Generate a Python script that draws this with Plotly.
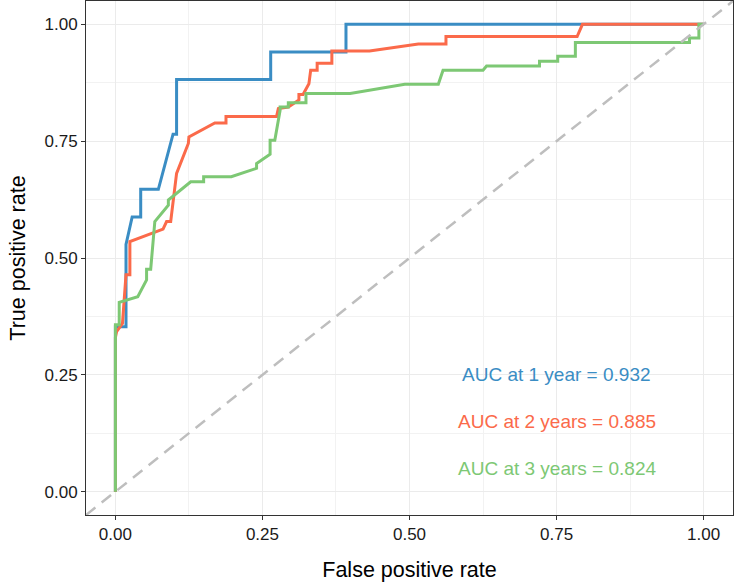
import plotly.graph_objects as go

# 1-year ROC
fpr_1y = [0, 0, 0.018, 0.018, 0.0285, 0.043, 0.043, 0.073, 0.098, 0.104, 0.104, 0.264, 0.264, 0.392, 0.392, 1.0]
tpr_1y = [0, 0.353, 0.353, 0.529, 0.588, 0.588, 0.647, 0.647, 0.765, 0.765, 0.882, 0.882, 0.941, 0.941, 1.0, 1.0]

# 2-year ROC
fpr_2y = [0, 0, 0.002, 0.012, 0.018, 0.0246, 0.0246, 0.081, 0.087, 0.094, 0.104, 0.124, 0.125, 0.169, 0.188, 0.188,
          0.274, 0.277, 0.294, 0.312, 0.312, 0.319, 0.329, 0.332, 0.343, 0.343, 0.368, 0.368, 0.432, 0.515, 0.562,
          0.562, 0.785, 0.794, 1.0]
tpr_2y = [0, 0.33, 0.3425, 0.36, 0.464, 0.464, 0.535, 0.562, 0.578, 0.578, 0.681, 0.745, 0.759, 0.789, 0.789, 0.803,
          0.803, 0.82, 0.823, 0.838, 0.85, 0.85, 0.873, 0.902, 0.902, 0.917, 0.917, 0.943, 0.943, 0.958, 0.958,
          0.974, 0.974, 1.0, 1.0]

# 3-year ROC
fpr_3y = [0, 0, 0.0065, 0.0065, 0.038, 0.053, 0.053, 0.06, 0.067, 0.09, 0.09, 0.128, 0.15, 0.15, 0.197, 0.24, 0.24,
          0.263, 0.263, 0.271, 0.28, 0.28, 0.294, 0.294, 0.324, 0.324, 0.399, 0.492, 0.549, 0.557, 0.625, 0.631,
          0.721, 0.721, 0.752, 0.752, 0.782, 0.782, 0.976, 0.976, 0.992, 0.992, 1.0]
tpr_3y = [0, 0.357, 0.357, 0.405, 0.417, 0.453, 0.476, 0.476, 0.578, 0.613, 0.624, 0.663, 0.663, 0.674, 0.674, 0.692,
          0.702, 0.722, 0.752, 0.752, 0.816, 0.823, 0.823, 0.832, 0.832, 0.852, 0.852, 0.872, 0.872, 0.902, 0.902,
          0.911, 0.911, 0.921, 0.921, 0.932, 0.932, 0.961, 0.961, 0.971, 0.971, 1.0, 1.0]

ref_line = [-0.05, 1.05]

auc_labels = ["AUC at 1 year = 0.932", "AUC at 2 years = 0.885", "AUC at 3 years = 0.824"]
label_x = [0.75, 0.75, 0.75]
label_y = [0.25, 0.15, 0.05]

tick_vals = [0, 0.25, 0.5, 0.75, 1.0]
tick_text = ["0.00", "0.25", "0.50", "0.75", "1.00"]

colors = ["#3A8DC4", "#FB6A4A", "#7DC874"]
FONT = "Arial, Liberation Sans, sans-serif"

fig = go.Figure()
for fx, ty, c in [(fpr_1y, tpr_1y, colors[0]), (fpr_2y, tpr_2y, colors[1]), (fpr_3y, tpr_3y, colors[2])]:
    fig.add_trace(go.Scatter(x=fx, y=ty, mode="lines", line=dict(color=c, width=3), showlegend=False,
                             hoverinfo="skip"))
fig.add_trace(go.Scatter(x=ref_line, y=ref_line, mode="lines",
                         line=dict(color="#BEBEBE", width=2.5, dash="12px,8px"), showlegend=False,
                         hoverinfo="skip"))

for txt, xx, yy, c in zip(auc_labels, label_x, label_y, colors):
    fig.add_annotation(x=xx, y=yy, text=txt, showarrow=False, xref="x", yref="y",
                       font=dict(family=FONT, size=19, color=c), xanchor="center", yanchor="middle")

axis_common = dict(
    range=[-0.05, 1.05], tickvals=tick_vals, ticktext=tick_text,
    showgrid=True, gridcolor="#EBEBEB", gridwidth=1.1, zeroline=False,
    showline=True, mirror=True, linecolor="#333333", linewidth=1,
    ticks="outside", ticklen=4, tickcolor="#333333", tickwidth=1,
    tickfont=dict(family=FONT, size=17, color="#1A1A1A"),
    minor=dict(dtick=0.125, tick0=0.125, showgrid=True, gridcolor="#F2F2F2", gridwidth=0.6),
)

fig.update_layout(
    width=734, height=585,
    margin=dict(l=86, r=1, t=1, b=70),
    paper_bgcolor="white", plot_bgcolor="white",
    font=dict(family=FONT),
    xaxis=dict(**axis_common, title=dict(text="False positive rate", standoff=18,
                                         font=dict(family=FONT, size=21.5, color="#000000"))),
    yaxis=dict(**axis_common, title=dict(text="True positive rate", standoff=12,
                                         font=dict(family=FONT, size=21.5, color="#000000"))),
)

fig.write_html("out.html")
